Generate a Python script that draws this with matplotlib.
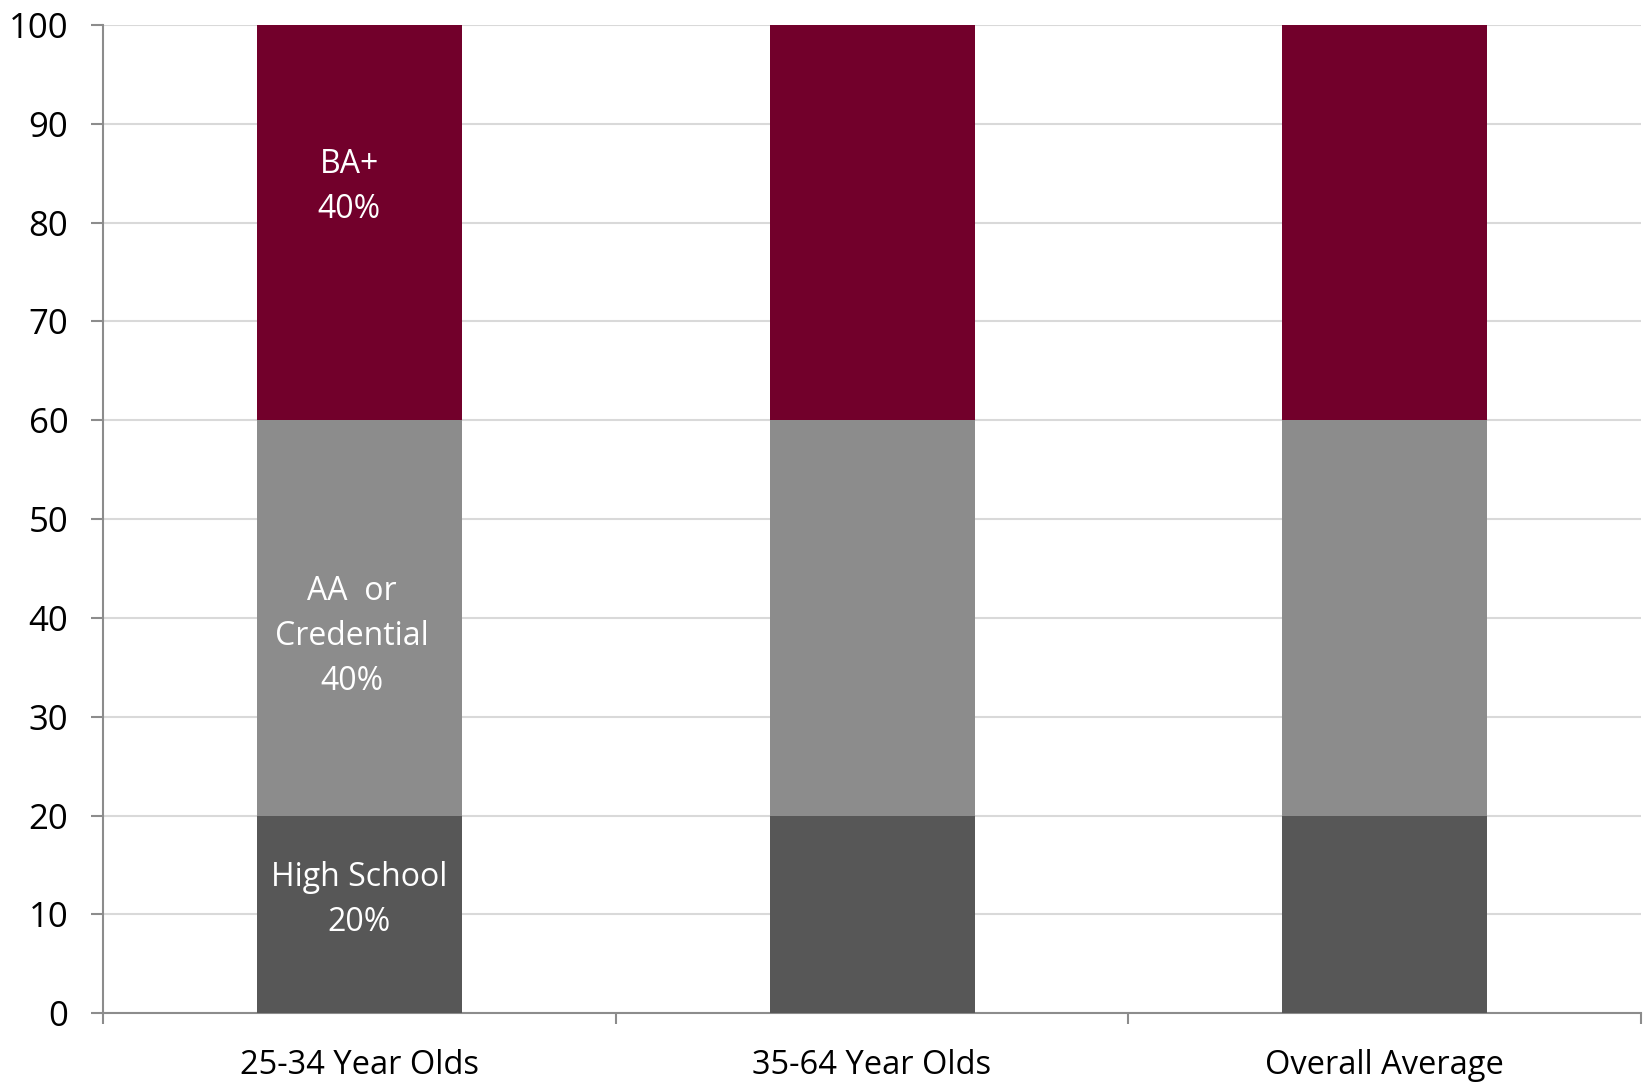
import matplotlib
matplotlib.use('Agg')
import matplotlib.pyplot as plt
import numpy as np

plt.rcParams['font.family'] = ['Open Sans', 'DejaVu Sans']

# data
groups = ['25-34 Year Olds', '35-64 Year Olds', 'Overall Average']
high_school = [20, 20, 20]
aa_credential = [40, 40, 40]
ba_plus = [40, 40, 40]

c_hs = '#575757'
c_aa = '#8c8c8c'
c_ba = '#72002b'
axis_grey = '#8c8c8c'

fig = plt.figure(figsize=(16.46, 10.82), dpi=100)
ax = fig.add_axes([0.0626, 0.0635, 0.9344, 0.9135])

x = np.arange(len(groups))
w = 0.4
hs = np.array(high_school)
aa = np.array(aa_credential)
ba = np.array(ba_plus)

ax.bar(x, hs, w, color=c_hs, zorder=3)
ax.bar(x, aa, w, bottom=hs, color=c_aa, zorder=3)
ax.bar(x, ba, w, bottom=hs + aa, color=c_ba, zorder=3)

# labels only on the first bar
lbl = dict(color='white', fontsize=23, ha='center', va='center', linespacing=1.47, zorder=4)
ax.text(x[0] - 0.02, hs[0] + aa[0] + ba[0] * 0.59, 'BA+\n%d%%' % ba[0], **lbl)
ax.text(x[0] - 0.015, hs[0] + aa[0] * 0.453, 'AA  or\nCredential\n%d%%' % aa[0], **lbl)
ax.text(x[0], hs[0] * 0.575, 'High School\n%d%%' % hs[0], **lbl)

ax.set_xlim(-0.5, len(groups) - 0.5)
ax.set_ylim(0, 100)
ax.set_yticks(np.arange(0, 101, 10))
ax.yaxis.grid(True, color='#d9d9d9', linewidth=1.5, zorder=0)

ax.set_xticks(x)
ax.set_xticklabels(groups)
ax.set_xticks(np.arange(-0.5, len(groups), 1.0), minor=True)
ax.tick_params(axis='x', which='major', length=0, pad=26, labelsize=23.5)
ax.tick_params(axis='x', which='minor', length=8, width=1.5, color=axis_grey, direction='out')
ax.tick_params(axis='y', length=9, width=1.5, color=axis_grey, pad=16, labelsize=25)

for s in ['top', 'right']:
    ax.spines[s].set_visible(False)
for s in ['left', 'bottom']:
    ax.spines[s].set_color(axis_grey)
    ax.spines[s].set_linewidth(1.5)

fig.savefig('out.png', dpi=100)
